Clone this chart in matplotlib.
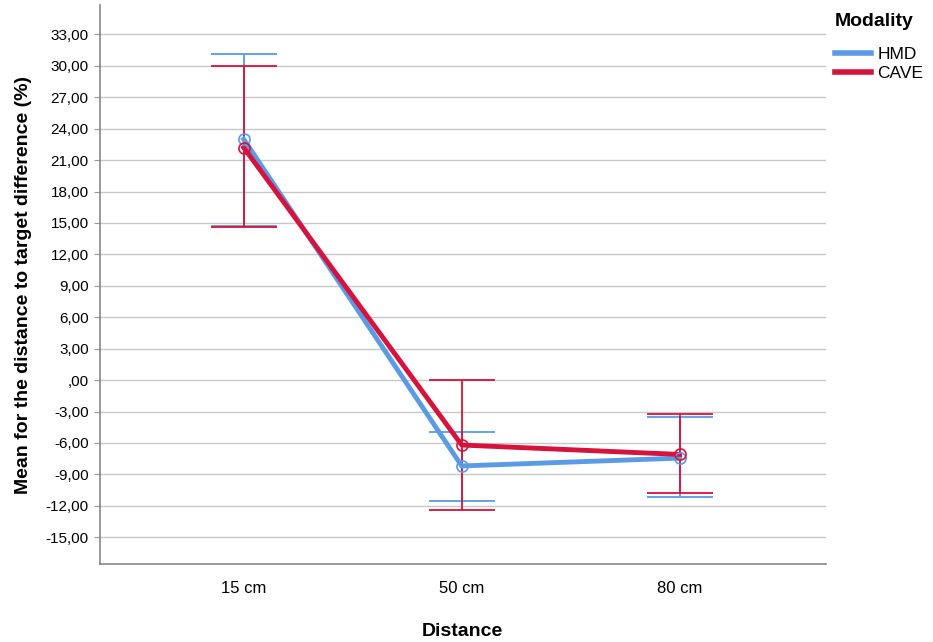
import numpy as np
import matplotlib
matplotlib.use('Agg')
import matplotlib.pyplot as plt
from matplotlib.ticker import FuncFormatter

plt.rcParams['font.family'] = ['Liberation Sans', 'DejaVu Sans']

distances = ['15 cm', '50 cm', '80 cm']
hmd_mean = [23.0, -8.2, -7.45]
hmd_low = [14.7, -11.5, -11.2]
hmd_high = [31.1, -4.95, -3.5]
cave_mean = [22.2, -6.2, -7.1]
cave_low = [14.6, -12.4, -10.8]
cave_high = [30.0, 0.0, -3.25]
yticks = np.arange(-15, 34, 3)

fig = plt.figure(figsize=(9.33, 6.42), dpi=100)
ax = fig.add_axes([0.107, 0.1215, 0.778, 0.8705])

x = np.arange(len(distances))
blue = '#5b9be6'
red = '#d5133c'

for mean, lo, hi, col, lab in [(hmd_mean, hmd_low, hmd_high, blue, 'HMD'),
                               (cave_mean, cave_low, cave_high, red, 'CAVE')]:
    mean = np.array(mean)
    err = [mean - np.array(lo), np.array(hi) - mean]
    ax.errorbar(x, mean, yerr=err, fmt='none', ecolor=col, elinewidth=1.3,
                capsize=24, capthick=1.3, zorder=3)
    ax.plot(x, mean, color=col, lw=3.5, label=lab, zorder=4)
    ax.plot(x, mean, 'o', mfc='none', mec=col, ms=8, mew=1.2, zorder=5)

ax.set_xlim(-0.66, 2.67)
ax.set_ylim(-17.56, 35.8)
ax.set_yticks(yticks)

def fmt(v, pos):
    s = '%.2f' % v
    s = s.replace('.', ',')
    if s.startswith('0,'):
        s = s[1:]
    return s

ax.yaxis.set_major_formatter(FuncFormatter(fmt))
ax.set_xticks(x)
ax.set_xticklabels(distances, fontsize=12)
ax.tick_params(axis='x', length=0, pad=12)
ax.tick_params(axis='y', labelsize=11, color='#999999', length=4, pad=4)
ax.grid(axis='y', color='#c8c8c8', lw=1)
ax.set_axisbelow(True)
for s in ['top', 'right']:
    ax.spines[s].set_visible(False)
for s in ['left', 'bottom']:
    ax.spines[s].set_color('#888888')
    ax.spines[s].set_linewidth(1.2)

ax.set_ylabel('Mean for the distance to target difference (%)', fontsize=14,
              fontweight='bold', labelpad=10)
ax.set_xlabel('Distance', fontsize=14, fontweight='bold', labelpad=20)

# legend title drawn separately to get the wider gap
fig.text(835 / 933, 1 - 22 / 642, 'Modality', fontsize=14, fontweight='bold',
         ha='left', va='center')
leg = fig.legend(loc='upper left', bbox_to_anchor=(835 / 933, 1 - 47 / 642),
                 frameon=False, fontsize=12.5, handlelength=2.1,
                 handletextpad=0.35, labelspacing=0.2, borderaxespad=0,
                 borderpad=0)
for h in leg.get_lines():
    h.set_linewidth(4)

fig.savefig('out.png', dpi=100)
